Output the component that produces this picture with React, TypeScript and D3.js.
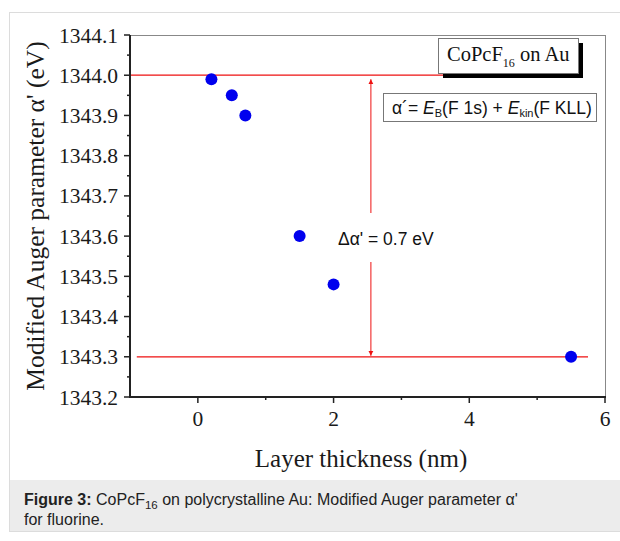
import React, { useEffect, useRef } from "react";
import * as d3 from "d3";

const thickness = [0.2, 0.5, 0.7, 1.5, 2.0, 5.5];
const auger = [1343.99, 1343.95, 1343.9, 1343.6, 1343.48, 1343.3];
const xTicks = [0, 2, 4, 6];
const xMinor = [1, 3, 5];
const yTicks = [1343.2, 1343.3, 1343.4, 1343.5, 1343.6, 1343.7, 1343.8, 1343.9, 1344.0, 1344.1];
const refLevels = [1344.0, 1343.3];

export default function App() {
  const ref = useRef<SVGSVGElement>(null);
  useEffect(() => {
    const svg = d3.select(ref.current);
    svg.selectAll("*").remove();
    const L = 130, R = 605, T = 35, B = 397;
    const x = d3.scaleLinear().domain([-1, 6]).range([L, R]);
    const y = d3.scaleLinear().domain([1343.2, 1344.1]).range([B, T]);
    const serif = "'Liberation Serif', 'Times New Roman', serif";
    const sans = "'Liberation Sans', Arial, sans-serif";

    // outer frame
    svg.append("rect").attr("x", 9.5).attr("y", 12.5).attr("width", 620).attr("height", 519)
      .attr("fill", "#fff").attr("stroke", "#dcdcdc");
    svg.append("rect").attr("x", 10).attr("y", 480).attr("width", 610).attr("height", 51).attr("fill", "#ececec");

    // top/right frame
    svg.append("line").attr("x1", L).attr("x2", R).attr("y1", T + 0.5).attr("y2", T + 0.5).attr("stroke", "#888").attr("stroke-width", 1);
    svg.append("line").attr("x1", R + 0.5).attr("x2", R + 0.5).attr("y1", T).attr("y2", B).attr("stroke", "#888").attr("stroke-width", 1);

    // y axis
    const yMinor = d3.range(1343.25, 1344.1, 0.1);
    const g = svg.append("g");
    yTicks.forEach((v) => {
      g.append("line").attr("x1", L - 6).attr("x2", L).attr("y1", y(v)).attr("y2", y(v)).attr("stroke", "#222").attr("stroke-width", 1.5);
      g.append("text").attr("x", L - 12).attr("y", y(v) + 7.5).attr("text-anchor", "end")
        .attr("font-family", serif).attr("font-size", 21.5).attr("fill", "#1a1a1a").text(v.toFixed(1));
    });
    yMinor.forEach((v) => {
      g.append("line").attr("x1", L - 3).attr("x2", L).attr("y1", y(v)).attr("y2", y(v)).attr("stroke", "#222").attr("stroke-width", 1.5);
    });
    xTicks.forEach((v) => {
      g.append("line").attr("x1", x(v)).attr("x2", x(v)).attr("y1", B).attr("y2", B + 6).attr("stroke", "#222").attr("stroke-width", 1.5);
      g.append("text").attr("x", x(v)).attr("y", B + 29).attr("text-anchor", "middle")
        .attr("font-family", serif).attr("font-size", 21.5).attr("fill", "#1a1a1a").text(String(v));
    });
    xMinor.forEach((v) => {
      g.append("line").attr("x1", x(v)).attr("x2", x(v)).attr("y1", B).attr("y2", B + 3).attr("stroke", "#222").attr("stroke-width", 1.5);
    });
    g.append("line").attr("x1", L).attr("x2", L).attr("y1", T).attr("y2", B + 1).attr("stroke", "#222").attr("stroke-width", 2);
    g.append("line").attr("x1", L - 1).attr("x2", R + 1).attr("y1", B).attr("y2", B).attr("stroke", "#222").attr("stroke-width", 2);

    // axis labels
    svg.append("text").attr("transform", `translate(44,${(T + B) / 2}) rotate(-90)`).attr("text-anchor", "middle")
      .attr("font-family", serif).attr("font-size", 25.5).attr("fill", "#1a1a1a").text("Modified Auger parameter α' (eV)");
    svg.append("text").attr("x", 361).attr("y", 467).attr("text-anchor", "middle")
      .attr("font-family", serif).attr("font-size", 25).attr("fill", "#1a1a1a").text("Layer thickness (nm)");

    // red reference lines
    svg.append("line").attr("x1", L + 1).attr("x2", x(4.0)).attr("y1", y(refLevels[0])).attr("y2", y(refLevels[0])).attr("stroke", "#ee1111").attr("stroke-width", 1.3);
    svg.append("line").attr("x1", x(-0.9)).attr("x2", x(5.75)).attr("y1", y(refLevels[1])).attr("y2", y(refLevels[1])).attr("stroke", "#ee1111").attr("stroke-width", 1.3);

    // arrows
    const ax = x(2.55);
    const defs = svg.append("defs");
    defs.append("marker").attr("id", "ah").attr("viewBox", "0 0 10 10").attr("refX", 10).attr("refY", 5)
      .attr("markerWidth", 5).attr("markerHeight", 9).attr("markerUnits", "userSpaceOnUse").attr("orient", "auto")
      .append("path").attr("d", "M0,0 L10,5 L0,10 Z").attr("fill", "#ee1111");
    svg.append("line").attr("x1", ax).attr("x2", ax).attr("y1", 213).attr("y2", y(refLevels[0]) + 4)
      .attr("stroke", "#ee1111").attr("stroke-width", 1).attr("marker-end", "url(#ah)");
    svg.append("line").attr("x1", ax).attr("x2", ax).attr("y1", 262).attr("y2", y(refLevels[1]) - 1)
      .attr("stroke", "#ee1111").attr("stroke-width", 1).attr("marker-end", "url(#ah)");
    svg.append("text").attr("x", 338).attr("y", 245).attr("font-family", sans).attr("font-size", 17.5).attr("fill", "#111")
      .text("Δα' = 0.7 eV");

    // points
    svg.append("g").selectAll("circle").data(thickness).join("circle")
      .attr("cx", (d) => x(d)).attr("cy", (d, i) => y(auger[i])).attr("r", 6).attr("fill", "#0000ee");

    // legend box
    svg.append("rect").attr("x", 443).attr("y", 43).attr("width", 140).attr("height", 35).attr("fill", "#000");
    svg.append("rect").attr("x", 438.5).attr("y", 38.5).attr("width", 140).attr("height", 35).attr("fill", "#fff").attr("stroke", "#777");
    const t1 = svg.append("text").attr("x", 447).attr("y", 61).attr("font-family", serif).attr("font-size", 20.5).attr("fill", "#111");
    t1.append("tspan").text("CoPcF");
    t1.append("tspan").attr("font-size", 12).attr("dy", 6).text("16");
    t1.append("tspan").attr("dy", -6).text(" on Au");

    // formula box
    svg.append("rect").attr("x", 383.5).attr("y", 93.5).attr("width", 213).attr("height", 28).attr("fill", "#fff").attr("stroke", "#777");
    const t2 = svg.append("text").attr("x", 392).attr("y", 114).attr("font-family", sans).attr("font-size", 17.5).attr("fill", "#111");
    t2.append("tspan").text("α´= ");
    t2.append("tspan").attr("font-style", "italic").text("E");
    t2.append("tspan").attr("font-size", 11).attr("dy", 3).text("B");
    t2.append("tspan").attr("dy", -3).text("(F 1s) + ");
    t2.append("tspan").attr("font-style", "italic").text("E");
    t2.append("tspan").attr("font-size", 11).attr("dy", 3).text("kin");
    t2.append("tspan").attr("dy", -3).text("(F KLL)");

    // caption
    const c1 = svg.append("text").attr("x", 24).attr("y", 505).attr("font-family", sans).attr("font-size", 16).attr("fill", "#222");
    c1.append("tspan").attr("font-weight", "bold").text("Figure 3:");
    c1.append("tspan").text(" CoPcF");
    c1.append("tspan").attr("font-size", 11.5).attr("dy", 4).text("16");
    c1.append("tspan").attr("dy", -4).text(" on polycrystalline Au: Modified Auger parameter α'");
    svg.append("text").attr("x", 24).attr("y", 525).attr("font-family", sans).attr("font-size", 16).attr("fill", "#222").text("for fluorine.");
  }, []);
  return (
    <svg ref={ref} width={620} height={541} style={{ position: "absolute", left: 0, top: 0, background: "#fff" }} />
  );
}
